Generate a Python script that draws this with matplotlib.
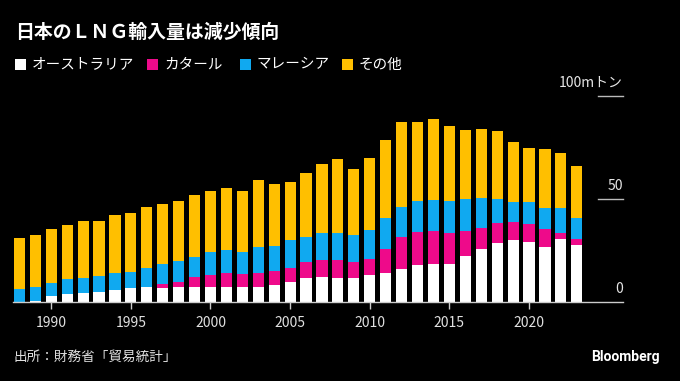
import matplotlib
matplotlib.use("Agg")
import matplotlib.pyplot as plt
from matplotlib.patches import Rectangle
import numpy as np

plt.rcParams['font.family'] = ['Noto Sans CJK JP', 'DejaVu Sans']

years = list(range(1988, 2024))
australia = [0.0, 0.5, 2.9, 3.7, 4.5, 4.9, 5.8, 6.8, 7.1, 6.9, 7.4, 7.4, 7.4, 7.4, 7.1, 7.4,
             8.1, 9.9, 11.8, 12.0, 11.8, 11.7, 13.2, 13.9, 15.9, 18.0, 18.4, 18.6, 22.5, 25.6,
             28.6, 30.1, 29.1, 26.7, 30.7, 27.7]
qatar = [0, 0, 0, 0, 0, 0, 0, 0, 0, 1.8, 2.5, 4.6, 5.7, 6.5, 6.3, 6.5, 6.8, 6.6, 7.8, 8.2,
         8.4, 7.9, 7.7, 11.8, 15.7, 16.0, 16.1, 14.7, 12.0, 10.3, 9.9, 8.9, 8.9, 8.9, 2.9, 2.7]
malaysia = [6.2, 6.6, 6.5, 7.3, 7.3, 7.6, 8.1, 8.0, 9.4, 9.7, 10.0, 9.8, 11.0, 11.5, 10.9,
            12.8, 12.4, 13.6, 12.1, 13.3, 13.1, 12.8, 14.1, 15.2, 14.7, 15.0, 15.0, 15.6, 15.5,
            14.8, 11.5, 9.4, 10.5, 10.2, 12.2, 10.5]
other = [24.7, 25.3, 26.0, 26.5, 27.4, 26.8, 28.2, 28.2, 29.5, 29.3, 29.3, 30.0, 29.6, 29.8,
         29.6, 32.4, 29.8, 28.0, 30.8, 33.3, 36.0, 32.2, 35.0, 37.7, 40.9, 38.5, 39.2, 36.4,
         33.3, 33.1, 32.9, 29.1, 26.1, 28.6, 26.4, 25.3]

series_names = ['オーストラリア', 'カタール', 'マレーシア', 'その他']
colors = ['#ffffff', '#ee0a8a', '#10a9f0', '#ffbf00']
y_ticks = [0, 50, 100]
y_labels = ['0', '50', '100mトン']
x_ticks = [1990, 1995, 2000, 2005, 2010, 2015, 2020]

W, H = 680, 381
fig = plt.figure(figsize=(W / 100, H / 100), dpi=100, facecolor='black')
ax = fig.add_axes([13 / W, 79 / H, 610 / W, 206 / H])
ax.set_facecolor('black')

data = [australia, qatar, malaysia, other]
bottom = np.zeros(len(years))
for vals, c in zip(data, colors):
    ax.bar(years, vals, bottom=bottom, width=0.7, color=c, linewidth=0, zorder=2)
    bottom += np.array(vals)

ax.set_xlim(1987.6, 2025.9)
ax.set_ylim(0, 100)
for s in ax.spines.values():
    s.set_visible(False)

# baseline
ax.axhline(0, color='#cccccc', linewidth=1.0, zorder=3, clip_on=False)
# short gridline stubs on right with labels
for v, lab in zip(y_ticks, y_labels):
    if v > 0:
        ax.axhline(v, xmin=0.959, xmax=1.0, color='#bbbbbb', linewidth=1.0, clip_on=False)
    ax.text(1.0, v + 3.0, lab, transform=ax.get_yaxis_transform(), ha='right', va='bottom',
            color='#e6e6e6', fontsize=10, clip_on=False)
ax.set_yticks([])

ax.set_xticks(x_ticks)
ax.set_xticklabels([str(x) for x in x_ticks])
ax.tick_params(axis='x', colors='#cccccc', labelcolor='#e0e0e0', length=5, width=1,
               labelsize=10, pad=5)

# title
fig.text(15 / W, 1 - 32 / H, '日本のＬＮＧ輸入量は減少傾向', color='white', fontsize=13.6,
         fontweight='bold', ha='left', va='center')

# legend
leg_sq_x = [15, 147, 240, 342]
for x0, name, c in zip(leg_sq_x, series_names, colors):
    fig.patches.append(Rectangle((x0 / W, 1 - 70 / H), 11 / W, 11 / H, transform=fig.transFigure,
                                 facecolor=c, edgecolor='none'))
    fig.text((x0 + 17) / W, 1 - 64.5 / H, name, color='white', fontsize=10.5, ha='left',
             va='center')

fig.text(13 / W, 1 - 357 / H, '出所：財務省「貿易統計」', color='#e0e0e0', fontsize=9.8,
         ha='left', va='center')
fig.text(660 / W, 1 - 357 / H, 'Bloomberg', color='white', fontsize=10, fontweight='bold',
         ha='right', va='center', family=['Roboto', 'DejaVu Sans'])

fig.savefig('out.png', dpi=100, facecolor='black')
